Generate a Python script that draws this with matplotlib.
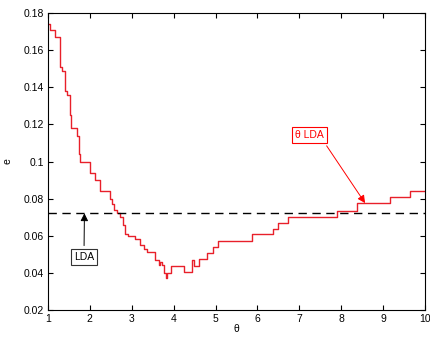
import matplotlib
matplotlib.use('Agg')
import matplotlib.pyplot as plt
from matplotlib.ticker import FuncFormatter

plt.rcParams['font.family'] = ['Liberation Sans', 'DejaVu Sans']
plt.rcParams['font.size'] = 7.5

# step curve: error e against theta (post-step)
theta = [1.00, 1.05, 1.17, 1.29, 1.34, 1.41, 1.45, 1.52, 1.56, 1.70, 1.75, 1.77,
         2.00, 2.12, 2.24, 2.48, 2.52, 2.58, 2.65, 2.72, 2.80, 2.84, 2.92, 3.08,
         3.20, 3.30, 3.36, 3.55, 3.65, 3.68, 3.72, 3.77, 3.81, 3.85, 3.94, 4.25,
         4.43, 4.45, 4.48, 4.61, 4.80, 4.94, 5.06, 5.87, 6.38, 6.50, 6.74, 7.89,
         8.37, 9.16, 9.64, 10.0]
err = [0.174, 0.171, 0.167, 0.151, 0.149, 0.138, 0.136, 0.125, 0.118, 0.114, 0.104, 0.100,
       0.094, 0.090, 0.084, 0.080, 0.077, 0.074, 0.072, 0.070, 0.066, 0.061, 0.060, 0.058,
       0.055, 0.053, 0.051, 0.047, 0.044, 0.046, 0.044, 0.040, 0.037, 0.040, 0.0437, 0.0406,
       0.0437, 0.047, 0.0437, 0.0473, 0.0505, 0.0538, 0.0573, 0.0609, 0.0636, 0.067, 0.0703, 0.0735,
       0.0775, 0.0807, 0.0841, 0.0841]
lda_err = 0.0721

fig = plt.figure(figsize=(4.30, 3.38), dpi=100)
ax = fig.add_axes([0.1116, 0.0828, 0.8767, 0.8787])

ax.step(theta, err, where='post', color='#e8202a', lw=1)
ax.axhline(lda_err, color='k', ls='--', dashes=(6, 4), lw=1)

ax.set_xlim(1, 10)
ax.set_ylim(0.02, 0.18)
ax.set_xticks(range(1, 11))
ax.set_yticks([0.02, 0.04, 0.06, 0.08, 0.1, 0.12, 0.14, 0.16, 0.18])
ax.yaxis.set_major_formatter(FuncFormatter(lambda v, p: '%g' % round(v, 2)))
ax.tick_params(direction='in', top=True, right=True, length=3.5, width=0.8, pad=3)
ax.set_xlabel(r'θ', labelpad=0)
ax.set_ylabel('e', labelpad=8)

ax.annotate('θ LDA', xy=(8.57, 0.0776), xytext=(7.25, 0.1143), color='red',
            ha='center', va='center',
            bbox=dict(boxstyle='square,pad=0.3', fc='white', ec='red', lw=0.8),
            arrowprops=dict(arrowstyle='-|>,head_length=0.6,head_width=0.3', color='red',
                            lw=0.7, relpos=(0.95, 0.0), shrinkB=0))
ax.annotate('LDA', xy=(1.87, lda_err), xytext=(1.86, 0.0486), color='k',
            ha='center', va='center',
            bbox=dict(boxstyle='square,pad=0.3', fc='white', ec='#333333', lw=0.8),
            arrowprops=dict(arrowstyle='-|>,head_length=0.6,head_width=0.3', color='k',
                            lw=0.7, relpos=(0.5, 1.0), shrinkB=0))

fig.savefig('out.png', dpi=100)
